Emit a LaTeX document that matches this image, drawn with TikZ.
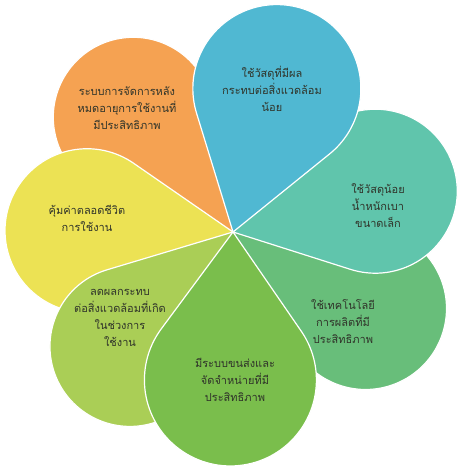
\documentclass[tikz,border=0pt]{standalone}
\usepackage{fontspec}
\newfontfamily\thaifont[Script=Thai]{Loma}
\definecolor{cOrange}{RGB}{245,162,82}
\definecolor{cBlue}{RGB}{80,184,210}
\definecolor{cTeal}{RGB}{96,197,172}
\definecolor{cGreenR}{RGB}{104,190,122}
\definecolor{cGreenB}{RGB}{122,190,76}
\definecolor{cLime}{RGB}{170,206,86}
\definecolor{cYellow}{RGB}{236,226,84}
\definecolor{txt}{RGB}{48,52,42}
% petal: angle, distance of round end, radius, colour
\newcommand\petal[4]{%
  \pgfmathsetmacro\pa{asin(#3/#2)}%
  \pgfmathsetmacro\pl{#2*cos(\pa)}%
  \filldraw[fill=#4,draw=white,line width=1.2pt,line join=round]
    (O) -- ++({#1-\pa}:\pl) arc[start angle={#1-90-\pa},end angle={#1+90+\pa},radius=#3] -- cycle;}
\begin{document}
\begin{tikzpicture}[x=1pt,y=1pt,lbl/.style={align=center,text=txt,font=\thaifont\fontsize{11}{17}\selectfont}]
            \useasboundingbox (0,0) rectangle (461,466);
            \coordinate (O) at (233,234);
            \petal{131}{152}{80}{cOrange}
            \petal{-30}{153}{81}{cGreenR}
            \petal{16}{148}{82}{cTeal}
            \petal{73}{150}{84}{cBlue}
            \petal{179.5}{146}{82}{cYellow}
            \petal{-132}{154}{80}{cLime}
            \petal{-91}{148}{86}{cGreenB}
            \node[lbl] (recycle) at (127,358) {ระบบการจัดการหลัง\\หมดอายุการใช้งานที่\\มีประสิทธิภาพ};
            \node[lbl] (material) at (272,377) {ใช้วัสดุที่มีผล\\กระทบต่อสิ่งแวดล้อม\\น้อย};
            \node[lbl] (light) at (378,260) {ใช้วัสดุน้อย\\น้ำหนักเบา\\ขนาดเล็ก};
            \node[lbl] (tech) at (343,144) {ใช้เทคโนโลยี\\การผลิตที่มี\\ประสิทธิภาพ};
            \node[lbl] (transport) at (235,86) {มีระบบขนส่งและ\\จัดจำหน่ายที่มี\\ประสิทธิภาพ};
            \node[lbl] (impact) at (120,148) {ลดผลกระทบ\\ต่อสิ่งแวดล้อมที่เกิด\\ในช่วงการ\\ใช้งาน};
            \node[lbl] (value) at (87,248) {คุ้มค่าตลอดชีวิต\\การใช้งาน};
\end{tikzpicture}
\end{document}
